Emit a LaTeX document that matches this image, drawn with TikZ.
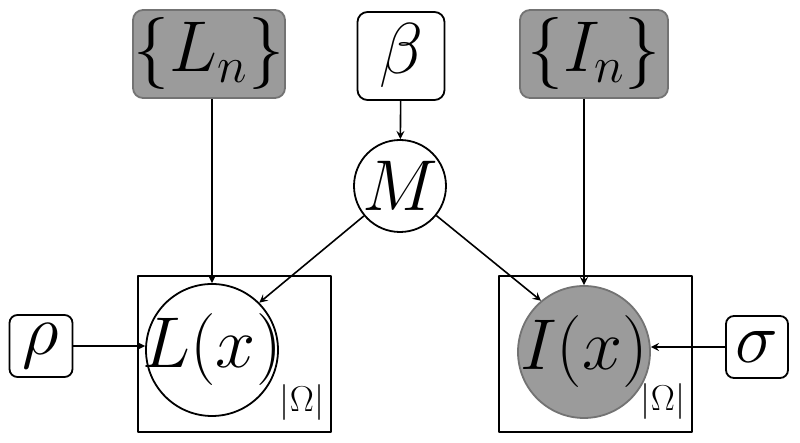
\RequirePackage{fix-cm}
\documentclass[tikz,border=0pt]{standalone}
\definecolor{obsgray}{RGB}{155,155,155}
\begin{document}
\begin{tikzpicture}[x=0.5pt,y=0.5pt,>=stealth,line join=round]
	\tikzset{param/.style={draw,rounded corners=5pt,line width=0.9pt,inner sep=0pt,font=\fontsize{36}{43}\selectfont},
		obs/.style={param,fill=obsgray,draw=gray!90!black},
		rv/.style={circle,draw,line width=0.9pt,inner sep=0pt,font=\fontsize{36}{43}\selectfont},
		plate/.style={draw,line width=0.9pt},
		edge/.style={->,line width=0.8pt}}
	\useasboundingbox (0,0) rectangle (800,443);
	% top row
	\node[obs,minimum width=76pt,minimum height=44pt] (Ln) at (209,389) {$\{L_n\}$};
	\node[param,minimum width=43.5pt,minimum height=44pt] (beta) at (401,387) {$\beta$};
	\node[obs,minimum width=74pt,minimum height=44pt] (In) at (594,389) {$\{I_n\}$};
	\node[rv,minimum size=46pt] (M) at (400,257) {$M$};
	% plates
	\draw[plate] (138,11) rectangle (331,167);
	\draw[plate] (499,11) rectangle (692,167);
	\node[font=\fontsize{18}{22}\selectfont] (omL) at (302,40) {$|\Omega|$};
	\node[font=\fontsize{18}{22}\selectfont] (omI) at (663,41) {$|\Omega|$};
	\node[rv,minimum size=66pt] (Lx) at (212,93) {\makebox[0pt]{$L(x)$}};
	\node[rv,minimum size=66pt,fill=obsgray,draw=gray!90!black] (Ix) at (584,91) {\makebox[0pt]{$I(x)$}};
	% side parameters
	\node[param,rounded corners=4pt,minimum width=31.5pt,minimum height=31pt] (rho) at (41,97) {$\rho$};
	\node[param,rounded corners=4pt,minimum width=31pt,minimum height=31pt] (sigma) at (757,96) {$\sigma$};
	% edges
	\draw[edge] (Ln.south -| Lx.north) -- (Lx);
	\draw[edge] (In.south -| Ix.north) -- (Ix);
	\draw[edge] (beta) -- (M);
	\draw[edge] (M) -- (Lx.north east);
	\draw[edge] (M) -- (Ix.130);
	\draw[edge] (rho) -- (rho -| Lx.west);
	\draw[edge] (sigma) -- (sigma -| Ix.east);
\end{tikzpicture}
\end{document}
